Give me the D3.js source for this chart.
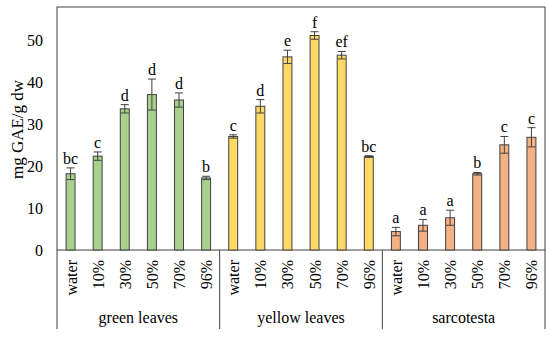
<!DOCTYPE html>
<html>
<head>
<meta charset="utf-8">
<script src="https://cdn.jsdelivr.net/npm/d3@7"></script>
<style>
  body { margin: 0; background: #fff; }
  svg text { font-family: "Palatino Linotype", "Book Antiqua", Palatino, "Liberation Serif", "DejaVu Serif", serif; fill: #000; }
</style>
</head>
<body>
<svg id="chart" width="550" height="337"></svg>
<script>
// groups and treatments
const groups = ["green leaves", "yellow leaves", "sarcotesta"];
const solvents = ["water", "10%", "30%", "50%", "70%", "96%"];
const groupColors = ["#a9d18e", "#ffd966", "#f4b183"];

// mg GAE / g dw
const greenValues = [18.2, 22.4, 33.7, 37.1, 35.8, 17.2];
const greenErrors = [1.4, 1.0, 1.0, 3.7, 1.7, 0.4];
const greenLetters = ["bc", "c", "d", "d", "d", "b"];

const yellowValues = [27.1, 34.3, 46.1, 51.2, 46.5, 22.3];
const yellowErrors = [0.4, 1.6, 1.6, 0.9, 0.9, 0.2];
const yellowLetters = ["c", "d", "e", "f", "ef", "bc"];

const sarcoValues = [4.4, 5.9, 7.7, 18.2, 25.1, 26.9];
const sarcoErrors = [1.0, 1.4, 1.8, 0.3, 2.0, 2.3];
const sarcoLetters = ["a", "a", "a", "b", "c", "c"];

const yTicks = [0, 10, 20, 30, 40, 50];

const allValues = [greenValues, yellowValues, sarcoValues];
const allErrors = [greenErrors, yellowErrors, sarcoErrors];
const allLetters = [greenLetters, yellowLetters, sarcoLetters];

const data = [];
groups.forEach((g, gi) => {
    solvents.forEach((s, si) => {
        data.push({
            key: g + "|" + s,
            group: g, gi: gi, solvent: s,
            value: allValues[gi][si],
            err: allErrors[gi][si],
            letter: allLetters[gi][si]
        });
    });
});

const margin = {left: 57, right: 5, top: 7, bottom: 87};
const width = 550, height = 337;
const w = width - margin.left - margin.right,
      h = height - margin.top - margin.bottom;

const svg = d3.select("#chart");
const g = svg.append("g").attr("transform", `translate(${margin.left},${margin.top})`);

const x = d3.scaleBand()
    .domain(data.map(d => d.key))
    .range([0, w])
    .paddingInner(0.67)
    .paddingOuter(0.335);

const y = d3.scaleLinear().domain([0, 58]).range([h, 0]);

// frame
g.append("rect")
    .attr("x", 0).attr("y", 0).attr("width", w).attr("height", h)
    .attr("fill", "none").attr("stroke", "#404040").attr("stroke-width", 1);

// y labels (no tick marks)
const yAxis = g.append("g").call(d3.axisLeft(y).tickValues(yTicks).tickSize(0).tickPadding(14));
yAxis.select(".domain").remove();
yAxis.attr("font-family", null);
yAxis.selectAll("text").attr("font-size", 16);

svg.append("text")
    .attr("transform", `translate(23,${margin.top + h / 2 + 1}) rotate(-90)`)
    .attr("text-anchor", "middle")
    .attr("font-size", 17)
    .text("mg GAE/g dw");

// bars
g.selectAll(".bar")
    .data(data)
    .enter()
    .append("rect")
    .attr("class", "bar")
    .attr("x", d => x(d.key))
    .attr("y", d => y(d.value))
    .attr("width", x.bandwidth())
    .attr("height", d => h - y(d.value))
    .attr("fill", d => groupColors[d.gi])
    .attr("stroke", "#404040")
    .attr("stroke-width", 1);

// error bars
const cap = 4;
const eb = g.selectAll(".err").data(data).enter().append("g").attr("class", "err")
    .attr("stroke", "#404040").attr("stroke-width", 1);
eb.append("line")
    .attr("x1", d => x(d.key) + x.bandwidth() / 2)
    .attr("x2", d => x(d.key) + x.bandwidth() / 2)
    .attr("y1", d => y(d.value + d.err))
    .attr("y2", d => y(d.value - d.err));
eb.append("line")
    .attr("x1", d => x(d.key) + x.bandwidth() / 2 - cap)
    .attr("x2", d => x(d.key) + x.bandwidth() / 2 + cap)
    .attr("y1", d => y(d.value + d.err))
    .attr("y2", d => y(d.value + d.err));
eb.append("line")
    .attr("x1", d => x(d.key) + x.bandwidth() / 2 - cap)
    .attr("x2", d => x(d.key) + x.bandwidth() / 2 + cap)
    .attr("y1", d => y(d.value - d.err))
    .attr("y2", d => y(d.value - d.err));

// significance letters
g.selectAll(".letter").data(data).enter().append("text")
    .attr("class", "letter")
    .attr("x", d => x(d.key) + x.bandwidth() / 2)
    .attr("y", d => y(d.value + d.err) - 4)
    .attr("text-anchor", "middle")
    .attr("font-size", 16)
    .text(d => d.letter);

// solvent labels, rotated
g.selectAll(".solv").data(data).enter().append("text")
    .attr("class", "solv")
    .attr("transform", d => `translate(${x(d.key) + x.bandwidth() / 2 + 6},${h + 10}) rotate(-90)`)
    .attr("text-anchor", "end")
    .attr("font-size", 16)
    .text(d => d.solvent);

// group separators and names
const gw = w / groups.length;
groups.forEach((name, gi) => {
    g.append("line")
        .attr("x1", gi * gw).attr("x2", gi * gw)
        .attr("y1", h).attr("y2", h + 79)
        .attr("stroke", "#404040");
    g.append("text")
        .attr("x", gi * gw + gw / 2)
        .attr("y", h + 73)
        .attr("text-anchor", "middle")
        .attr("font-size", 16)
        .text(name);
});
g.append("line")
    .attr("x1", w).attr("x2", w)
    .attr("y1", h).attr("y2", h + 79)
    .attr("stroke", "#404040");
</script>
</body>
</html>
